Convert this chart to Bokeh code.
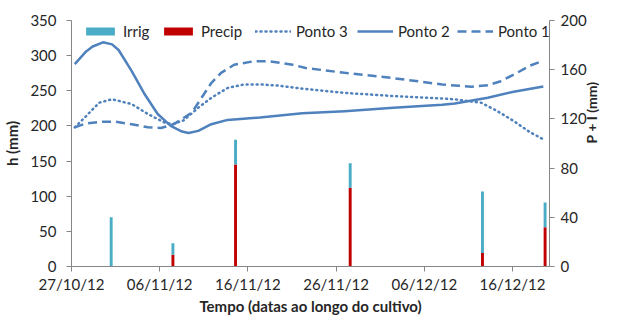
import math
from bokeh.plotting import figure
from bokeh.models import (Range1d, LinearAxis, FixedTicker, Legend, LegendItem,
                          ColumnDataSource)
from bokeh.embed import file_html
from bokeh.resources import INLINE

# ---------------- data (days counted from 27/10/12) ----------------
tick_days = [0, 10, 20, 30, 40, 50]
tick_labels = ["27/10/12", "06/11/12", "16/11/12", "26/11/12", "06/12/12", "16/12/12"]

bar_days = [4.5, 11.5, 18.6, 31.6, 46.6, 53.7]
precip = [0, 9.5, 83, 64, 11, 32]
irrig = [40, 9.5, 20, 20, 50, 20]

p2_days = [0.37, 1.66, 2.4, 3.57, 4.6, 5.34, 6.83, 8.30, 9.77, 11.25, 12.53, 13.27, 14.38,
           15.85, 17.70, 21.38, 26.18, 30.97, 36.5, 42.04, 43.47, 47.2, 50.14, 53.5]
p2_vals = [288, 306, 313, 319, 316, 308, 278, 245, 217, 200, 192, 190, 193,
           202.5, 208.6, 212, 218, 221, 226, 230, 232, 240, 248.7, 256]

p3_days = [0.37, 1.66, 3.13, 4.61, 6.83, 8.66, 10.51, 11.43, 12.72, 14.38, 15.85,
           17.70, 19.54, 21.38, 23.23, 26.18, 30.97, 36.5, 42.04, 43.47, 46.46,
           48.3, 50.14, 51.99, 53.5]
p3_vals = [198, 214, 233, 238, 231, 217, 205, 202.5, 208, 226, 240,
           254, 259, 259, 257.6, 253, 247, 242.5, 239, 237.8, 233,
           221, 207, 191, 181]

p1_days = [0.37, 1.66, 3.51, 4.98, 6.83, 8.66, 10.14, 11.62, 13.64, 14.38, 15.85,
           16.96, 18.44, 20.65, 22.49, 25.07, 26.55, 30.97, 36.5, 42.04, 43.47,
           45.35, 47.2, 48.67, 50.52, 51.99, 53.5]
p1_vals = [198, 203.5, 206, 206, 202.5, 198, 197, 202.5, 219, 233, 261,
           275.5, 287, 292, 292, 287, 282.5, 275.5, 268, 259, 257.6,
           255.7, 258, 263.6, 275.5, 285.8, 293]

# ---------------- styling ----------------
FONT = "Lato"
AXC = "#868686"
TXT = "#262626"
LINEC = "#4F81BD"
IRRC = "#4BACC6"
PRECC = "#C00000"

p = figure(width=611, height=318, output_backend="svg", toolbar_location=None,
           x_range=Range1d(0, 54.2), y_range=Range1d(0, 350),
           min_border_left=70, min_border_right=57, min_border_top=20,
           min_border_bottom=52)
p.outline_line_color = None
p.xgrid.visible = False
p.ygrid.visible = False
p.background_fill_color = "white"
p.border_fill_color = "white"

p.extra_y_ranges = {"pi": Range1d(0, 200)}
right = LinearAxis(y_range_name="pi", ticker=FixedTicker(ticks=[0, 40, 80, 120, 160, 200]),
                   axis_label="P + I (mm)")
p.add_layout(right, "right")

p.yaxis[0].ticker = FixedTicker(ticks=[0, 50, 100, 150, 200, 250, 300, 350])
p.yaxis[0].axis_label = "h (mm)"
p.xaxis[0].ticker = FixedTicker(ticks=tick_days)
p.xaxis[0].major_label_overrides = {d: l for d, l in zip(tick_days, tick_labels)}
p.xaxis[0].axis_label = "Tempo (datas ao longo do cultivo)"

for ax in [p.xaxis[0], p.yaxis[0], right]:
    ax.axis_line_color = AXC
    ax.major_tick_line_color = AXC
    ax.minor_tick_line_color = None
    ax.major_tick_in = 0
    ax.major_tick_out = 5
    ax.major_label_text_font = FONT
    ax.major_label_text_font_size = "15px"
    ax.major_label_text_color = TXT
    ax.axis_label_text_font = FONT
    ax.axis_label_text_font_style = "bold"
    ax.axis_label_text_color = TXT
p.yaxis[0].major_label_standoff = 10
p.yaxis[0].axis_label_standoff = 6
p.yaxis[0].axis_label_text_font_size = "15px"
right.major_label_standoff = 6
right.axis_label_standoff = 2
right.axis_label_text_font_size = "14px"
p.xaxis[0].major_label_standoff = 3
p.xaxis[0].axis_label_standoff = 1
p.xaxis[0].axis_label_text_font_size = "15px"
# right-hand title reads bottom-to-top, as in the reference
if "axis_label_orientation" in LinearAxis.properties():
    right.axis_label_orientation = math.pi / 2

# ---------------- bars ----------------
src = ColumnDataSource(dict(x=bar_days, precip=precip, irrig=irrig))
bars = p.vbar_stack(["precip", "irrig"], x="x", width=0.33, source=src,
                    color=[PRECC, IRRC], line_color=None, y_range_name="pi")

# ---------------- lines ----------------
l3 = p.line(p3_days, p3_vals, line_color=LINEC, line_width=2.5, line_dash="1 4",
            line_cap="round")
l2 = p.line(p2_days, p2_vals, line_color=LINEC, line_width=2.5, line_join="round")
l1 = p.line(p1_days, p1_vals, line_color=LINEC, line_width=2.5, line_dash="9 5")

# ---------------- legend (one entry per box, placed like the reference) ----------------
entries = [("Irrig", bars[1], 11), ("Precip", bars[0], 89), ("Ponto 3", l3, 184),
           ("Ponto 2", l2, 286), ("Ponto 1", l1, 386)]
for lab, rend, xoff in entries:
    lg = Legend(items=[LegendItem(label=lab, renderers=[rend])],
                orientation="horizontal", location=(xoff, 226))
    lg.border_line_color = None
    lg.background_fill_alpha = 0
    lg.padding = 0
    lg.margin = 0
    lg.glyph_width = 36
    lg.glyph_height = 10
    lg.label_standoff = 5
    lg.label_text_font = FONT
    lg.label_text_font_size = "15px"
    lg.label_text_color = TXT
    p.add_layout(lg, "center")

open("out.html", "w").write(file_html(p, INLINE))
